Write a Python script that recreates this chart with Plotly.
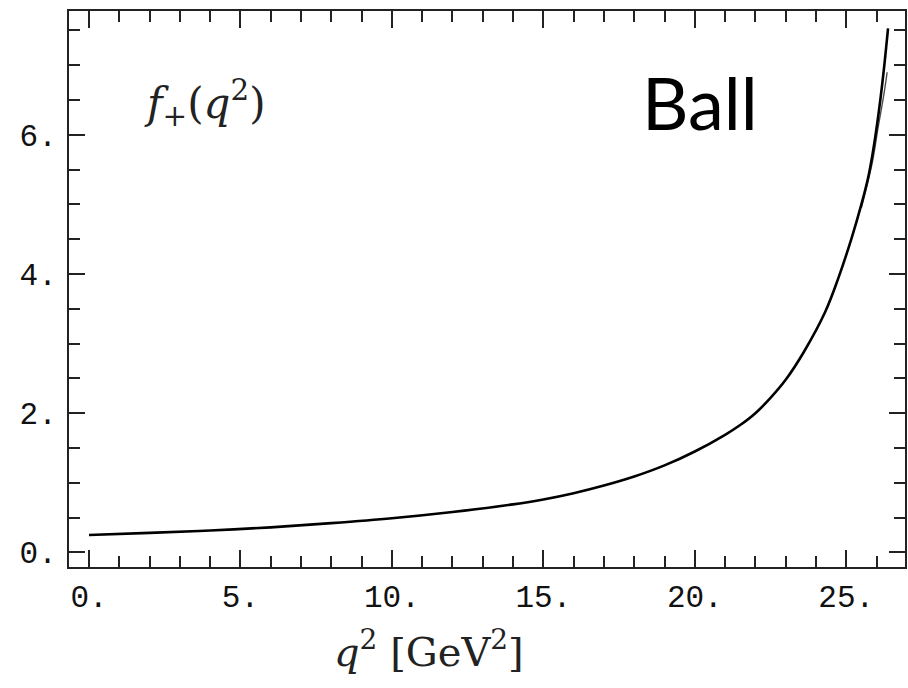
import plotly.graph_objects as go

# f+(q^2) form factor, light-cone sum rule result
q2 = [0, 2, 4, 6, 8, 10, 12, 14, 15, 16, 17, 18, 19, 20, 21, 21.5, 22,
      22.5, 23, 23.6, 24.3, 24.73, 25.18, 25.5, 25.72, 25.86, 26.05,
      26.22, 26.38]
fplus = [0.25, 0.28, 0.315, 0.36, 0.42, 0.49, 0.58, 0.69, 0.76, 0.85, 0.96,
         1.09, 1.25, 1.45, 1.69, 1.83, 2.0, 2.22, 2.48, 2.88, 3.45, 3.93,
         4.52, 5.0, 5.38, 5.7, 6.25, 6.85, 7.53]

# slightly offset branch near the endpoint
q2_alt = [25.5, 25.86, 26.05, 26.25, 26.35]
fplus_alt = [4.95, 5.6, 6.1, 6.6, 6.9]

x_ticks = [0, 5, 10, 15, 20, 25]
x_labels = ["0.", "5.", "10.", "15.", "20.", "25."]
y_ticks = [0, 2, 4, 6]
y_labels = ["0.", "2.", "4.", "6."]

fig = go.Figure()
fig.add_trace(go.Scatter(x=q2, y=fplus, mode="lines",
                         line=dict(color="black", width=2.6, shape="spline", smoothing=1.0),
                         showlegend=False))
fig.add_trace(go.Scatter(x=q2_alt, y=fplus_alt, mode="lines",
                         line=dict(color="rgba(0,0,0,0.7)", width=1.4, shape="spline"),
                         showlegend=False))

tickfont = dict(family="Liberation Mono", size=31, color="#111")

fig.update_xaxes(range=[-0.66, 26.94], tickvals=x_ticks, ticktext=x_labels,
                 ticks="inside", ticklen=17, tickwidth=2, tickcolor="#222",
                 minor=dict(dtick=1, tick0=0, ticks="inside", ticklen=11,
                            tickwidth=2, tickcolor="#222"),
                 showline=True, linecolor="#222", linewidth=2, mirror="allticks",
                 showgrid=False, zeroline=False, tickfont=tickfont,
                 ticklabelstandoff=1)
fig.update_yaxes(range=[-0.21, 7.78], tickvals=y_ticks, ticktext=y_labels,
                 ticks="inside", ticklen=16, tickwidth=2, tickcolor="#222",
                 minor=dict(dtick=0.5, tick0=0, ticks="inside", ticklen=11,
                            tickwidth=2, tickcolor="#222"),
                 showline=True, linecolor="#222", linewidth=2, mirror="allticks",
                 showgrid=False, zeroline=False, tickfont=tickfont,
                 ticklabelstandoff=4)

fig.add_annotation(text="<i>q</i><sup>2</sup> [GeV<sup>2</sup>]", xref="paper", yref="paper",
                   x=0.431, y=-0.148, xanchor="center", yanchor="middle", showarrow=False,
                   font=dict(family="DejaVu Serif", size=40, color="#222"))
fig.add_annotation(text="<i>f</i><sub>+</sub>(<i>q</i><sup>2</sup>)", xref="paper", yref="paper",
                   x=0.163, y=0.835, xanchor="center", yanchor="middle", showarrow=False,
                   font=dict(family="DejaVu Serif", size=42, color="#222"))
fig.add_annotation(text="Ball", xref="paper", yref="paper",
                   x=0.755, y=0.836, xanchor="center", yanchor="middle", showarrow=False,
                   font=dict(family="Lato", size=72, color="black"))

fig.update_layout(width=908, height=688, margin=dict(l=69, r=1, t=11, b=121),
                  plot_bgcolor="white", paper_bgcolor="white")

fig.write_html("out.html")
